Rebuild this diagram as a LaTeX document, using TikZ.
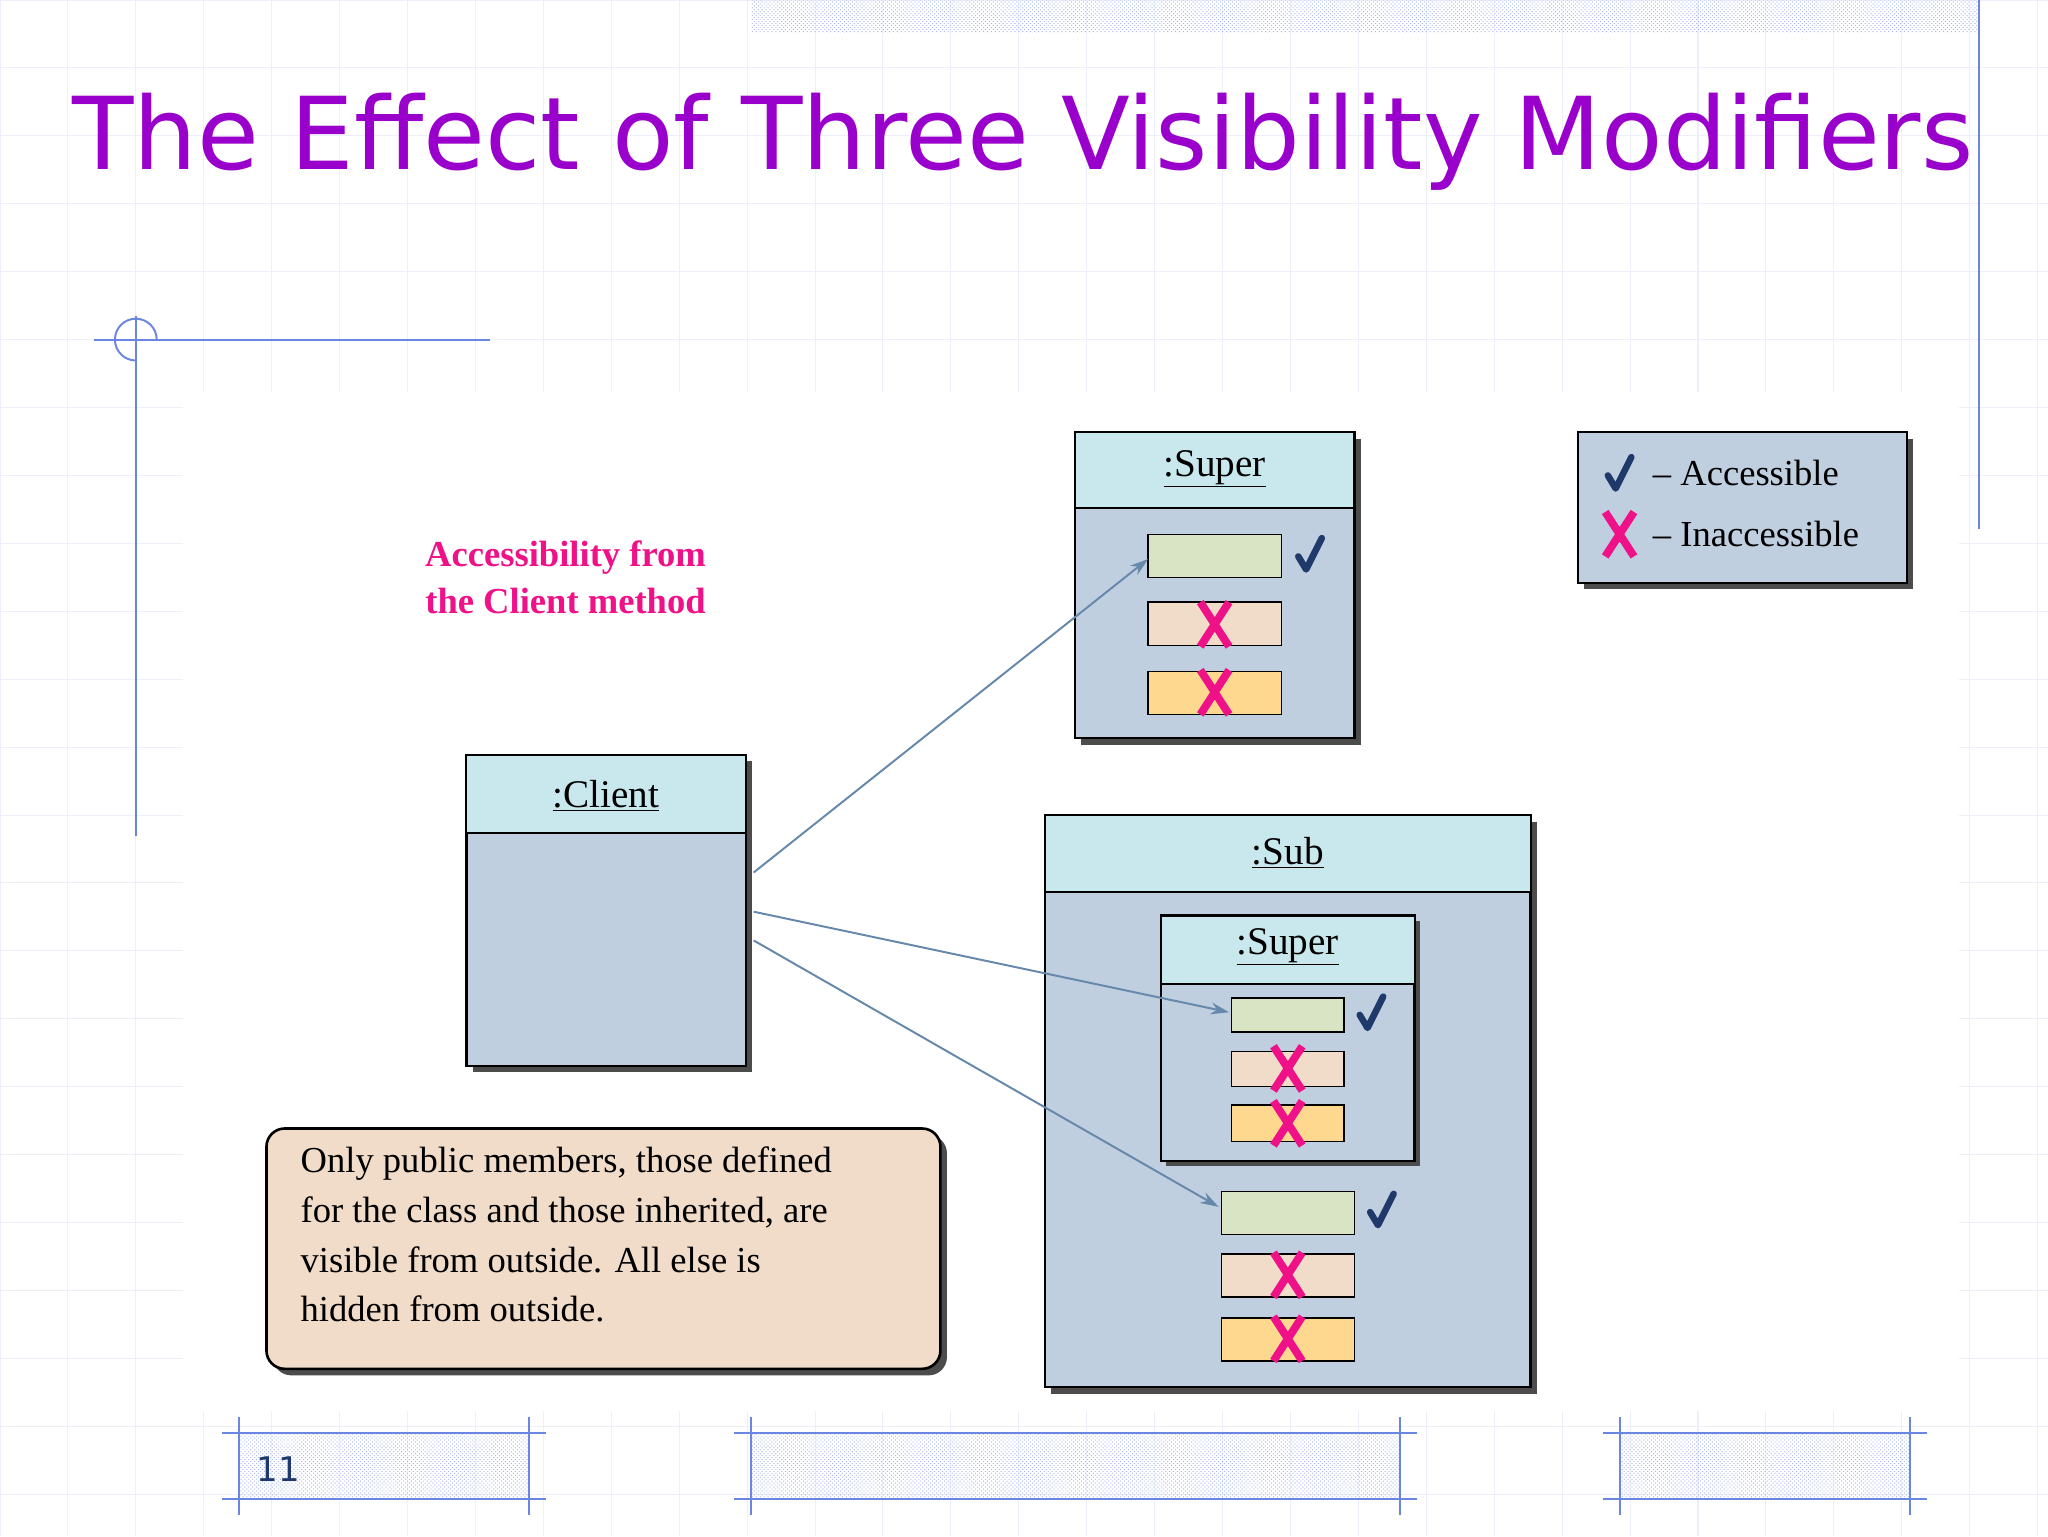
\documentclass[tikz,border=0pt]{standalone}
\usepackage{fontspec}
\setmainfont{Liberation Serif}
\newfontfamily\titlefont{DejaVu Sans}
\usetikzlibrary{patterns,arrows.meta}
\definecolor{hdr}{HTML}{C8E8EE}
\definecolor{bod}{HTML}{BFCFE0}
\definecolor{fgreen}{HTML}{D8E4C4}
\definecolor{fpeach}{HTML}{F0DCC8}
\definecolor{forange}{HTML}{FFD890}
\definecolor{navy}{HTML}{1F3A6A}
\definecolor{mag}{HTML}{EE1188}
\definecolor{deco}{HTML}{6A86E0}
\definecolor{arr}{HTML}{6688AA}
\definecolor{ttl}{HTML}{9900CC}
\tikzset{
 box/.style={draw=black,line width=2pt,fill=bod},
 shadow/.style={fill=black!70},
 head/.style={draw=black,line width=1.5pt,fill=hdr},
 fld/.style={draw=black,line width=1pt},
 lbl/.style={font=\fontsize{30}{34}\selectfont},
 conn/.style={draw=arr,line width=1.5pt,-{Stealth[length=14pt,width=9pt]}},
 hatch/.style={pattern=crosshatch dots,pattern color=deco!60},
 decol/.style={draw=deco,line width=1.5pt}
}
\newcommand{\chk}[1]{\draw[navy,line width=5pt,line cap=round,line join=round] ($(#1)+(-9,2)$) -- ($(#1)+(-3,12)$) -- ($(#1)+(9,-12)$);}
\newcommand{\crs}[1]{\draw[mag,line width=6pt] ($(#1)+(-11,-17)$) -- ($(#1)+(11,17)$) ($(#1)+(11,-17)$) -- ($(#1)+(-11,17)$);}
\usetikzlibrary{calc}
\begin{document}
\begin{tikzpicture}[x=1pt,y=-1pt]
\useasboundingbox (0,0) rectangle (1568,1176);
\fill[white] (0,0) rectangle (1568,1176);
\foreach \x in {0,52,...,1568} \draw[deco!12,line width=0.8pt] (\x,0) -- (\x,1176);
\foreach \y in {0,52,...,1176} \draw[deco!12,line width=0.8pt] (0,\y) -- (1568,\y);
\fill[white] (140,300) rectangle (1500,1080);
% top band and decorations
\fill[hatch] (575,0) rectangle (1515,25);
\draw[decol] (1515,0) -- (1515,405);
\draw[decol] (72,260) -- (375,260);
\draw[decol] (104,242) -- (104,640);
\draw[decol] (120,260) arc (0:-270:16);
% title
\node[anchor=base west,text=ttl,inner sep=0] (title) at (55,130) {\resizebox{1455pt}{!}{\titlefont The Effect of Three Visibility Modifiers}};
% bottom bars
\foreach \a/\b [count=\i] in {183/405,575/1072,1240/1462}{
 \fill[hatch] (\a,1097) rectangle (\b,1148);
 \draw[decol] (\a-13,1097) -- (\b+13,1097) (\a-13,1148) -- (\b+13,1148);
 \draw[decol] (\a,1085) -- (\a,1160) (\b,1085) -- (\b,1160);
}
\node[font=\fontfamily{DejaVu Sans}\titlefont\fontsize{26}{30}\selectfont,text=navy] (pg) at (213,1125) {11};
% Client
\fill[shadow] (362,583) rectangle (576,821);
\draw[box] (357,578) rectangle (571,816);
\draw[head] (357,578) rectangle (571,638);
\node[lbl] (client) at (464,609) {\underline{:Client}};
% Super
\fill[shadow] (828,336) rectangle (1042,570);
\draw[box] (823,331) rectangle (1037,565);
\draw[head] (823,331) rectangle (1037,389);
\node[lbl] (super) at (930,359) {\underline{:Super}};
\draw[fld,fill=fgreen] (879,409) rectangle (981,442) coordinate (s1);
\coordinate (s1in) at (879,428);
\draw[fld,fill=fpeach] (879,461) rectangle (981,494);
\draw[fld,fill=forange] (879,514) rectangle (981,547);
\chk{1003,424} \crs{930,478} \crs{930,530}
% Sub
\fill[shadow] (805,629) rectangle (1177,1067);
\draw[box] (800,624) rectangle (1172,1062);
\draw[head] (800,624) rectangle (1172,683);
\node[lbl] (sub) at (986,653) {\underline{:Sub}};
\fill[shadow] (893,705) rectangle (1087,893);
\draw[box] (889,701) rectangle (1083,889);
\draw[head] (889,701) rectangle (1083,753);
\node[lbl] (isuper) at (986,725) {\underline{:Super}};
\draw[fld,fill=fgreen] (943,764) rectangle (1029,790);
\draw[fld,fill=fpeach] (943,805) rectangle (1029,832);
\draw[fld,fill=forange] (943,846) rectangle (1029,874);
\chk{1050,775} \crs{986,818} \crs{986,860}
\draw[fld,fill=fgreen] (935,912) rectangle (1037,945);
\draw[fld,fill=fpeach] (935,960) rectangle (1037,993);
\draw[fld,fill=forange] (935,1009) rectangle (1037,1042);
\chk{1058,926} \crs{986,976} \crs{986,1025}
\coordinate (t2) at (941,775);
\coordinate (t3) at (933,924);
\coordinate (c1) at (577,668);
\coordinate (c2) at (577,698);
\coordinate (c3) at (577,720);
\draw[conn] (c1) -- (s1in);
\draw[conn] (c2) -- (t2);
\draw[conn] (c3) -- (t3);
% legend
\fill[shadow] (1213,336) rectangle (1465,451);
\draw[box,line width=1.5pt] (1208,331) rectangle (1460,446);
\chk{1240,362} \crs{1240,409}
\node[lbl,anchor=west,font=\fontsize{28}{32}\selectfont] (acc) at (1262,362) {-- Accessible};
\node[lbl,anchor=west,font=\fontsize{28}{32}\selectfont] (inacc) at (1262,409) {-- Inaccessible};
% red text
\node[text=mag,font=\bfseries\fontsize{28}{36}\selectfont,align=center] (acctxt) at (433,442) {Accessibility from\\the Client method};
% note
\fill[shadow,rounded corners=14pt] (209,869) rectangle (725,1053);
\draw[draw=black,line width=2pt,fill=fpeach,rounded corners=14pt] (204,864) rectangle (720,1048);
\node[anchor=north west,align=left,font=\fontsize{28}{38}\selectfont,inner sep=0] (note) at (230,878) {Only public members, those defined\\for the class and those inherited, are\\visible from outside. All else is\\hidden from outside.};
\end{tikzpicture}
\end{document}
